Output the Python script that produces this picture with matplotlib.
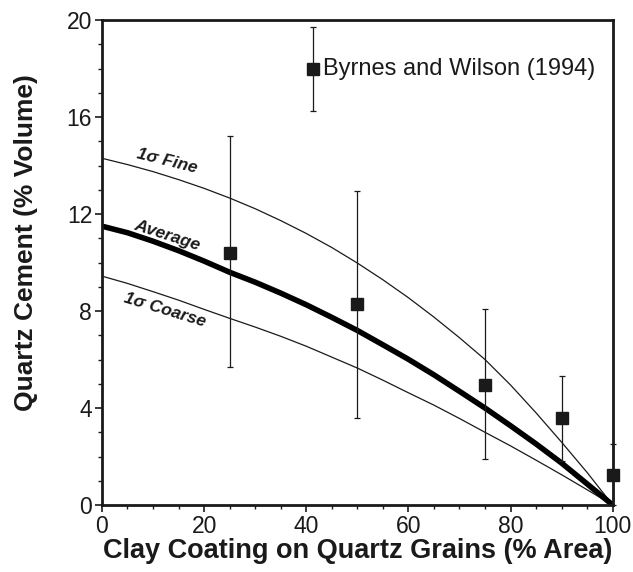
import matplotlib
matplotlib.use("Agg")
import matplotlib.pyplot as plt
from matplotlib.ticker import MultipleLocator

plt.rcParams['font.family'] = ['Liberation Sans', 'DejaVu Sans']

# Data
obs_x = [25, 50, 75, 90, 100]
obs_y = [10.4, 8.3, 4.95, 3.6, 1.25]
obs_lo = [5.7, 3.6, 1.9, 1.8, 0.0]
obs_hi = [15.2, 12.95, 8.1, 5.33, 2.5]

curve_x = [0, 5, 10, 15, 20, 25, 30, 35, 40, 45, 50, 55, 60, 65, 70, 75, 80, 85, 90, 95, 100]
fine_y = [14.3, 14.04, 13.75, 13.42, 13.06, 12.66, 12.22, 11.73, 11.2, 10.62, 9.98,
          9.29, 8.55, 7.75, 6.9, 6.0, 4.95, 3.8, 2.59, 1.34, 0.0]
avg_y = [11.5, 11.23, 10.88, 10.49, 10.06, 9.6, 9.19, 8.74, 8.26, 7.74, 7.2,
         6.61, 6.01, 5.37, 4.69, 4.0, 3.27, 2.52, 1.73, 0.87, 0.0]
coarse_y = [9.44, 9.14, 8.8, 8.45, 8.07, 7.7, 7.34, 6.96, 6.55, 6.1, 5.65,
            5.15, 4.63, 4.12, 3.57, 3.0, 2.44, 1.85, 1.25, 0.63, 0.0]

legend_x = [41.3]
legend_y = [18.0]
legend_lo = [16.25]
legend_hi = [19.7]

x_ticks = [0, 20, 40, 60, 80, 100]
y_ticks = [0, 4, 8, 12, 16, 20]

fig = plt.figure(figsize=(6.33, 5.72), dpi=100)
ax = fig.add_axes([0.161, 0.117, 0.807, 0.848])

ink = '#1a1a1a'
ax.plot(curve_x, fine_y, color=ink, lw=0.9)
ax.plot(curve_x, coarse_y, color=ink, lw=0.9)
ax.plot(curve_x, avg_y, color='black', lw=4.0, solid_capstyle='butt')

yerr = [[y - lo for y, lo in zip(obs_y, obs_lo)], [hi - y for y, hi in zip(obs_y, obs_hi)]]
ax.errorbar(obs_x, obs_y, yerr=yerr, fmt='s', color=ink, ms=9, mfc=ink, mec=ink,
            ecolor=ink, elinewidth=0.9, capsize=2.5, capthick=0.9, clip_on=False, zorder=5)

lerr = [[legend_y[0] - legend_lo[0]], [legend_hi[0] - legend_y[0]]]
ax.errorbar(legend_x, legend_y, yerr=lerr, fmt='s', color=ink, ms=9, mfc=ink, mec=ink,
            ecolor=ink, elinewidth=0.9, capsize=2.5, capthick=0.9, zorder=5)
ax.text(legend_x[0] + 2.0, legend_y[0], 'Byrnes and Wilson (1994)', fontsize=17,
        va='center', ha='left', color=ink)

ax.text(12.7, 14.2, '1σ Fine', fontsize=12.5, fontweight='bold', fontstyle='italic',
        rotation=-14, ha='center', va='center', color=ink)
ax.text(12.7, 11.1, 'Average', fontsize=12.5, fontweight='bold', fontstyle='italic',
        rotation=-18, ha='center', va='center', color=ink)
ax.text(12.3, 8.05, '1σ Coarse', fontsize=12.5, fontweight='bold', fontstyle='italic',
        rotation=-17, ha='center', va='center', color=ink)

ax.set_xlim(0, 100)
ax.set_ylim(0, 20)
ax.set_xticks(x_ticks)
ax.set_yticks(y_ticks)
ax.xaxis.set_minor_locator(MultipleLocator(5))
ax.yaxis.set_minor_locator(MultipleLocator(1))
ax.tick_params(which='major', direction='out', length=5, width=1.2, labelsize=16.5,
               colors=ink, pad=2)
ax.tick_params(which='minor', direction='out', length=3, width=1.0, colors=ink)
for s in ax.spines.values():
    s.set_linewidth(2.0)
    s.set_color(ink)

ax.set_xlabel('Clay Coating on Quartz Grains (% Area)', fontsize=19.5, fontweight='bold',
              color=ink)
ax.xaxis.set_label_coords(0.5, -0.068)
ax.set_ylabel('Quartz Cement (% Volume)', fontsize=19, fontweight='bold', color=ink)
ax.yaxis.set_label_coords(-0.125, 0.542)

fig.savefig('out.png', dpi=100)
